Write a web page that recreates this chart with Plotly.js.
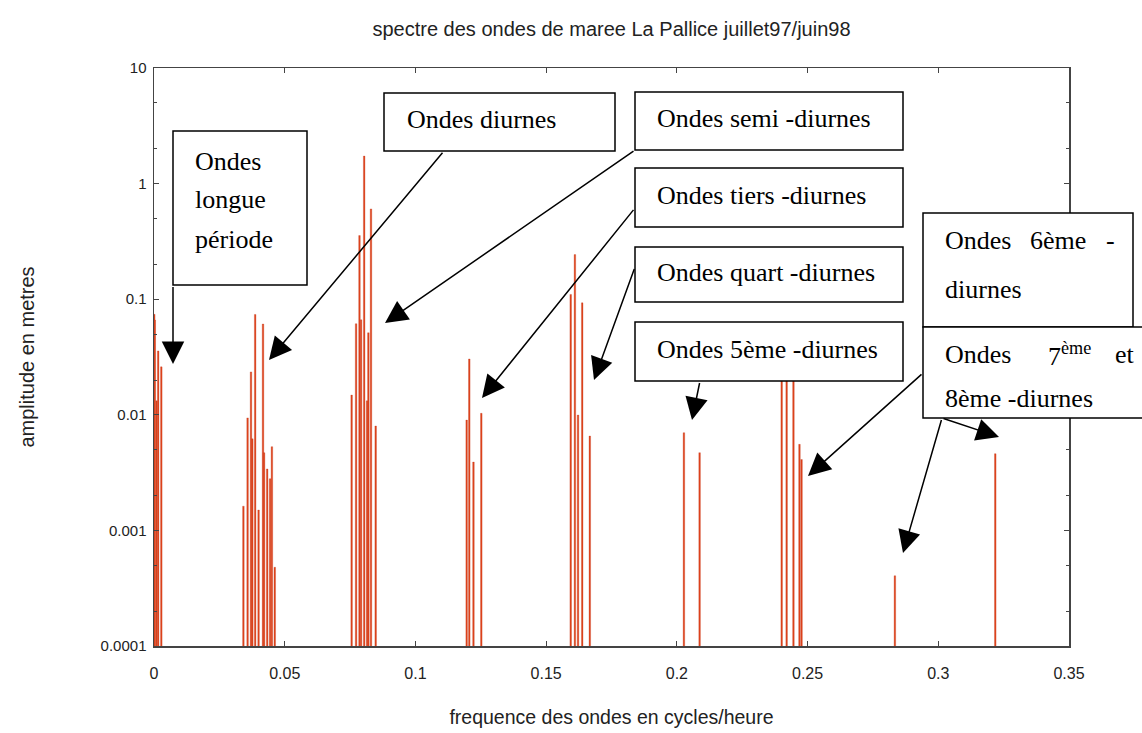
<!DOCTYPE html>
<html><head><meta charset="utf-8">
<script src="https://cdn.plot.ly/plotly-3.0.1.min.js"></script>
<style>html,body{margin:0;padding:0;background:#fff}</style>
</head><body>
<div id="chart" style="width:1142px;height:733px"></div>
<script>
// ---- data (frequency in cycles/hour, amplitude in metres)
const freqLongPeriod = [0.0001, 0.0003, 0.0010, 0.0016, 0.0028];
const ampLongPeriod  = [0.074, 0.066, 0.0132, 0.0357, 0.026];
const freqDiurnal = [0.0342, 0.0358, 0.0371, 0.0376, 0.0387, 0.0400, 0.0417, 0.0421, 0.0433, 0.0444, 0.0451, 0.0462];
const ampDiurnal  = [0.00162, 0.0094, 0.0235, 0.0062, 0.0738, 0.0015, 0.061, 0.0047, 0.0034, 0.0028, 0.0053, 0.00048];
const freqSemi = [0.0756, 0.0773, 0.0786, 0.0792, 0.0804, 0.0815, 0.0820, 0.0830, 0.0848];
const ampSemi  = [0.0148, 0.0614, 0.355, 0.0663, 1.73, 0.0132, 0.0512, 0.604, 0.0080];
const freqTer = [0.1196, 0.1206, 0.1222, 0.1252];
const ampTer  = [0.0090, 0.0304, 0.0039, 0.0103];
const freqQuart = [0.1594, 0.1610, 0.1622, 0.1638, 0.1667];
const ampQuart  = [0.110, 0.243, 0.00995, 0.093, 0.00655];
const freq5 = [0.2027, 0.2087];
const amp5  = [0.0070, 0.0047];
const freq6 = [0.2401, 0.2420, 0.2446, 0.2469, 0.2477];
const amp6  = [0.021, 0.030, 0.026, 0.00555, 0.0041];
const freq7 = [0.2834];
const amp7  = [0.000405];
const freq8 = [0.3218];
const amp8  = [0.00461];

const xTickVals = [0, 0.05, 0.1, 0.15, 0.2, 0.25, 0.3, 0.35];
const xTickText = ["0", "0.05", "0.1", "0.15", "0.2", "0.25", "0.3", "0.35"];
const yTickVals = [0.0001, 0.001, 0.01, 0.1, 1, 10];
const yTickText = ["0.0001", "0.001", "0.01", "0.1", "1", "10"];
const yMinorVals = [0.0002, 0.0005, 0.002, 0.005, 0.02, 0.05, 0.2, 0.5, 2, 5];

const boxLabels = {
  longue: ["Ondes", "longue", "période"],
  diurnes: "Ondes diurnes",
  semi: "Ondes semi -diurnes",
  tiers: "Ondes tiers -diurnes",
  quart: "Ondes quart -diurnes",
  cinq: "Ondes 5ème -diurnes",
  six: [["Ondes", "6ème", "-"], ["diurnes"]],
  sept: [["Ondes", "7<sup>ème</sup>", "et"], ["8ème -diurnes"]]
};

const freqAll = [].concat(freqLongPeriod, freqDiurnal, freqSemi, freqTer, freqQuart, freq5, freq6, freq7, freq8);
const ampAll  = [].concat(ampLongPeriod, ampDiurnal, ampSemi, ampTer, ampQuart, amp5, amp6, amp7, amp8);

// ---- layout geometry (pixels)
const W = 1142, H = 733;
const L = 154, R = 73, T = 68, B = 87;
const PW = W - L - R, PH = H - T - B;
const px = v => (v - L) / PW;
const py = v => (H - B - v) / PH;

const serif = {family: "Liberation Serif, 'Times New Roman', serif", size: 26, color: "#000"};

const shapes = [];
const annotations = [];
function box(x0, y0, x1, y1) {
  shapes.push({type: "rect", xref: "paper", yref: "paper", x0: px(x0), x1: px(x1), y0: py(y1), y1: py(y0),
    fillcolor: "#fff", line: {color: "#000", width: 1.5}, layer: "above"});
}
function txt(text, x, y) {
  annotations.push({text: text, xref: "paper", yref: "paper", x: px(x), y: py(y), xanchor: "left", yanchor: "middle",
    showarrow: false, font: serif});
}
function arrow(tx, ty, hx, hy) {
  annotations.push({text: " ", xref: "paper", yref: "paper", x: px(hx), y: py(hy), ax: tx - hx, ay: ty - hy,
    showarrow: true, arrowhead: 2, arrowsize: 3, arrowwidth: 1.5, arrowcolor: "#000", standoff: 0,
    font: {size: 1}});
}

box(173, 131, 307, 285);
boxLabels.longue.forEach((t, i) => txt(t, 193, 161 + 39 * i));
box(384, 93, 615, 151); txt(boxLabels.diurnes, 405, 119);
box(635, 92, 903, 150); txt(boxLabels.semi, 655, 118);
box(635, 168, 903, 227); txt(boxLabels.tiers, 655, 195);
box(635, 247, 903, 302); txt(boxLabels.quart, 655, 272);
box(635, 322, 903, 381); txt(boxLabels.cinq, 655, 349);
box(923, 213, 1133, 327);
txt(boxLabels.six[0][0], 943, 240); txt(boxLabels.six[0][1], 1028, 240); txt(boxLabels.six[0][2], 1104, 240);
txt(boxLabels.six[1][0], 943, 289);
box(923, 327, 1150, 418);
txt(boxLabels.sept[0][0], 943, 354); txt(boxLabels.sept[0][1], 1046, 354); txt(boxLabels.sept[0][2], 1113, 354);
txt(boxLabels.sept[1][0], 943, 398);

arrow(173, 285, 173, 364);
arrow(444, 151, 269, 360);
arrow(635, 150, 385, 323);
arrow(635, 208, 482, 398);
arrow(635, 267, 594, 380);
arrow(700, 381, 692, 420);
arrow(923, 373, 808, 476);
arrow(942, 418, 999, 437);
arrow(942, 418, 903, 553);

const sans = "Liberation Sans, Arial, sans-serif";

const trace = {
  type: "bar", x: freqAll, y: ampAll, width: 0.0006,
  marker: {color: "#e0441c", line: {color: "#c23a1f", width: 0.3}},
  hoverinfo: "x+y"
};

const layout = {
  width: W, height: H,
  margin: {l: L, r: R, t: T, b: B},
  paper_bgcolor: "#fff", plot_bgcolor: "#fff",
  showlegend: false,
  bargap: 0,
  title: {text: "spectre des ondes de maree La Pallice juillet97/juin98", x: 0.5, xref: "paper",
    y: 1 - 29 / H, yref: "container", yanchor: "middle", font: {family: sans, size: 20, color: "#222"}},
  xaxis: {range: [0, 0.35], tickvals: xTickVals, ticktext: xTickText, ticks: "inside", ticklen: 5,
    tickcolor: "#444", showline: true, linecolor: "#444", linewidth: 1.5, mirror: "ticks", showgrid: false,
    zeroline: false, tickfont: {family: sans, size: 16, color: "#222"}, ticklabelstandoff: 12,
    title: {text: "frequence des ondes en cycles/heure", font: {family: sans, size: 19.5, color: "#222"}, standoff: 29}},
  yaxis: {type: "log", range: [-4, 1], tickvals: yTickVals, ticktext: yTickText, ticks: "inside", ticklen: 5,
    tickcolor: "#444", showline: true, linecolor: "#444", linewidth: 1.5, mirror: "ticks", showgrid: false,
    zeroline: false, tickfont: {family: sans, size: 15, color: "#222"}, ticklabelstandoff: 3,
    minor: {tickmode: "array", tickvals: yMinorVals, ticks: "inside", ticklen: 3, tickcolor: "#444", showgrid: false},
    title: {text: "amplitude en metres", font: {family: sans, size: 20, color: "#222"}, standoff: 60}},
  shapes: shapes,
  annotations: annotations
};

Plotly.newPlot("chart", [trace], layout, {staticPlot: true, displayModeBar: false});
</script>
</body></html>
